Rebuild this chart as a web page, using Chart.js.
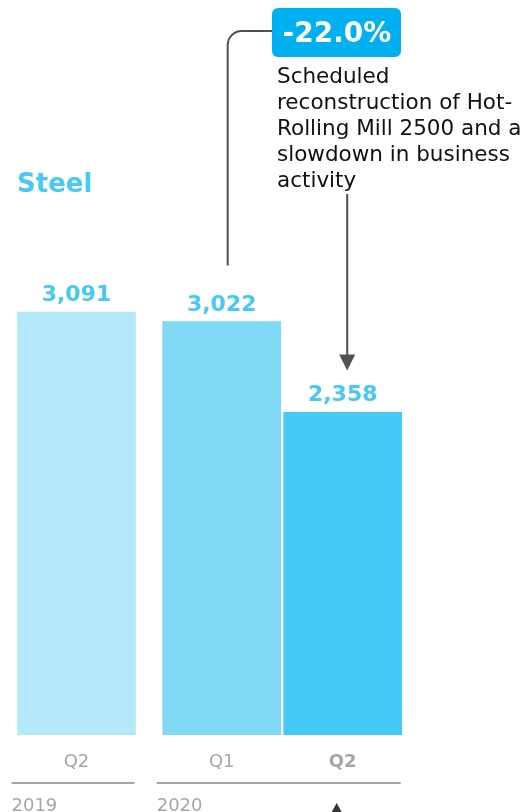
<!DOCTYPE html>
<html>
<head>
<meta charset="utf-8">
<title>Steel</title>
<script src="https://cdn.jsdelivr.net/npm/chart.js@4/dist/chart.umd.min.js"></script>
<style>
  html, body { margin: 0; padding: 0; background: #ffffff; }
  #wrap { position: relative; width: 527px; height: 812px; }
</style>
</head>
<body>
<div id="wrap"><canvas id="chart"></canvas></div>
<script>
// Quarterly steel figures
const quarters = ['Q2', 'Q1', 'Q2'];
const years = ['2019', '2020', '2020'];
const values = [3091, 3022, 2358];
const changeLabel = '-22.0%';
const noteLines = ['Scheduled', 'reconstruction of Hot-', 'Rolling Mill 2500 and a', 'slowdown in business', 'activity'];
const segmentTitle = 'Steel';

const barColors = ['#b4e9fa', '#7fd9f7', '#45c9f5'];
const FONT = '"DejaVu Sans", Verdana, sans-serif';

// Bars of the same year sit next to each other; a small extra gap separates years.
const YEAR_GAP = 0.2;
const points = [];
let group = 0;
values.forEach((v, i) => {
  if (i > 0 && years[i] !== years[i - 1]) group++;
  points.push({ x: i + group * YEAR_GAP, y: v });
});

const UNIT_PX = 121;      // width of one category slot
const FIRST_CENTER = 76.5;

function roundedConnector(ctx, x, yBottom, yTop, xEnd, r) {
  ctx.beginPath();
  ctx.moveTo(x, yBottom);
  ctx.lineTo(x, yTop + r);
  ctx.arcTo(x, yTop, x + r, yTop, r);
  ctx.lineTo(xEnd, yTop);
  ctx.stroke();
}

function roundRect(ctx, x, y, w, h, r) {
  ctx.beginPath();
  ctx.moveTo(x + r, y);
  ctx.arcTo(x + w, y, x + w, y + h, r);
  ctx.arcTo(x + w, y + h, x, y + h, r);
  ctx.arcTo(x, y + h, x, y, r);
  ctx.arcTo(x, y, x + w, y, r);
  ctx.closePath();
}

const decorations = {
  id: 'decorations',
  afterDatasetsDraw(chart) {
    const ctx = chart.ctx;
    const meta = chart.getDatasetMeta(0);
    const bars = meta.data;
    const area = chart.chartArea;

    ctx.save();
    // value labels above bars
    ctx.fillStyle = '#45c9f5';
    ctx.font = 'bold 22px ' + FONT;
    ctx.textAlign = 'center';
    ctx.textBaseline = 'alphabetic';
    bars.forEach((b, i) => {
      ctx.fillText(values[i].toLocaleString('en-US'), b.x, b.y - 11);
    });

    // segment title
    ctx.textAlign = 'left';
    ctx.font = 'bold 26px ' + FONT;
    ctx.fillText(segmentTitle, 17, 192);

    // quarter labels under bars
    ctx.textAlign = 'center';
    bars.forEach((b, i) => {
      const last = i === bars.length - 1;
      ctx.font = (last ? 'bold ' : '') + '18px ' + FONT;
      ctx.fillStyle = '#a6a6a6';
      ctx.fillText(quarters[i], b.x, area.bottom + 32);
    });

    // year group rules and labels
    ctx.strokeStyle = '#a6a6a6';
    ctx.lineWidth = 2;
    ctx.fillStyle = '#a6a6a6';
    ctx.font = '18px ' + FONT;
    ctx.textAlign = 'left';
    let start = 0;
    for (let i = 1; i <= bars.length; i++) {
      if (i === bars.length || years[i] !== years[start]) {
        const x0 = bars[start].x - bars[start].width / 2 - 6;
        const x1 = bars[i - 1].x + bars[i - 1].width / 2 - 1;
        ctx.beginPath();
        ctx.moveTo(x0, area.bottom + 48);
        ctx.lineTo(x1, area.bottom + 48);
        ctx.stroke();
        ctx.fillText(years[start], x0, area.bottom + 76);
        start = i;
      }
    }

    // change callout: connector from previous quarter
    const prev = bars[bars.length - 2];
    const cur = bars[bars.length - 1];
    ctx.strokeStyle = '#505050';
    ctx.lineWidth = 2;
    roundedConnector(ctx, prev.x + 6, prev.y - 56, 31, 274, 14);

    // percentage badge
    ctx.fillStyle = '#00b0f0';
    roundRect(ctx, 272, 8, 129, 49, 6);
    ctx.fill();
    ctx.fillStyle = '#ffffff';
    ctx.font = 'bold 28px ' + FONT;
    ctx.textAlign = 'center';
    ctx.fillText(changeLabel, 337, 42);

    // explanatory note
    ctx.fillStyle = '#111111';
    ctx.font = '21.5px ' + FONT;
    ctx.textAlign = 'left';
    noteLines.forEach((t, i) => ctx.fillText(t, 277, 83 + i * 26));

    // arrow down to the current quarter
    const ax = cur.x + 4.5;
    const tip = cur.y - 42;
    ctx.strokeStyle = '#505050';
    ctx.fillStyle = '#505050';
    ctx.beginPath();
    ctx.moveTo(ax, 194);
    ctx.lineTo(ax, tip - 14);
    ctx.stroke();
    ctx.beginPath();
    ctx.moveTo(ax - 8, tip - 16);
    ctx.lineTo(ax + 8, tip - 16);
    ctx.lineTo(ax, tip);
    ctx.closePath();
    ctx.fill();

    // arrow head of the annotation continuing below
    const bx = cur.x - 6;
    ctx.fillStyle = '#333333';
    ctx.beginPath();
    ctx.moveTo(bx - 6, area.bottom + 79);
    ctx.lineTo(bx, area.bottom + 68);
    ctx.lineTo(bx + 6, area.bottom + 79);
    ctx.closePath();
    ctx.fill();
    ctx.restore();
  }
};

new Chart(document.getElementById('chart'), {
  type: 'bar',
  data: {
    datasets: [{
      data: points,
      backgroundColor: barColors,
      borderWidth: 0,
      barThickness: 118
    }]
  },
  options: {
    responsive: true,
    maintainAspectRatio: false,
    animation: false,
    events: [],
    layout: { padding: { top: 51, bottom: 77, left: 0, right: 0 } },
    plugins: {
      legend: { display: false },
      tooltip: { enabled: false },
      title: { display: false }
    },
    scales: {
      x: {
        type: 'linear',
        display: false,
        offset: false,
        bounds: 'ticks',
        min: -FIRST_CENTER / UNIT_PX,
        max: (527 - FIRST_CENTER) / UNIT_PX
      },
      y: {
        display: false,
        min: 0,
        max: 5000
      }
    }
  },
  plugins: [decorations]
});
</script>
</body>
</html>
